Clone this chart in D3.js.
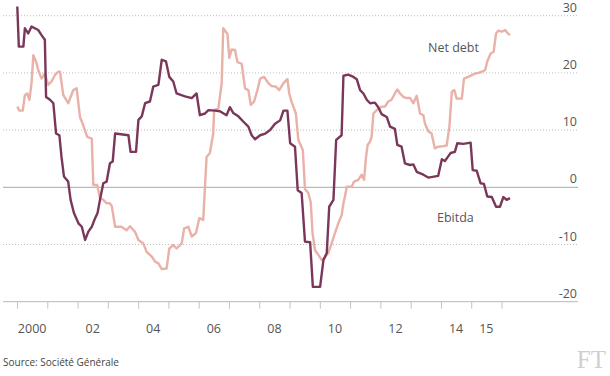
<!DOCTYPE html>
<html>
<head>
<meta charset="utf-8">
<script src="https://cdn.jsdelivr.net/npm/d3@7"></script>
<style>
  body { margin: 0; background: #fff; }
  svg { display: block; }
  text { font-family: "Open Sans", sans-serif; fill: #555; }
</style>
</head>
<body>
<div id="chart-area"></div>
<script>
// values (% change, year as decimal)
var ebitdaDates = [2000.01,2000.06,2000.21,2000.26,2000.37,2000.48,2000.59,2000.70,2000.81,2000.92,2000.96,
  2001.09,2001.20,2001.29,2001.40,2001.47,2001.55,2001.69,2001.77,2001.88,2002.03,2002.14,2002.25,2002.36,
  2002.47,2002.58,2002.66,2002.74,2002.85,2002.96,2003.07,2003.16,2003.24,2003.68,2003.75,2003.93,2004.01,
  2004.12,2004.23,2004.39,2004.50,2004.67,2004.78,2004.92,2005.03,2005.16,2005.27,2005.43,2005.55,2005.77,
  2005.93,2006.04,2006.21,2006.32,2006.54,2006.70,2006.92,2007.03,2007.14,2007.31,2007.47,2007.64,2007.75,
  2007.86,2008.03,2008.20,2008.36,2008.52,2008.69,2008.80,2008.93,2009.02,2009.18,2009.27,2009.40,2009.51,
  2009.68,2009.77,2010.01,2010.12,2010.23,2010.31,2010.45,2010.54,2010.72,2010.78,2010.94,2011.11,2011.22,
  2011.33,2011.44,2011.55,2011.66,2011.82,2011.93,2012.04,2012.21,2012.32,2012.48,2012.56,2012.70,2012.81,
  2012.98,2013.09,2013.20,2013.42,2013.58,2013.91,2014.03,2014.13,2014.24,2014.32,2014.46,2014.54,2014.74,
  2014.98,2015.05,2015.18,2015.31,2015.42,2015.53,2015.68,2015.82,2015.95,2016.06,2016.17,2016.28];
var ebitdaValues = [31.6,24.6,24.6,27.8,26.9,28.1,27.8,27.5,26.6,25.8,15.8,
  15.3,14.7,9.4,9.1,5.3,1.9,1.0,-2.2,-4.5,-6.3,-6.9,-9.2,-7.7,
  -6.9,-5.4,-4.5,-2.2,0.7,1.0,4.2,4.5,9.4,9.1,6.2,6.2,11.8,
  12.4,14.7,15.0,17.6,17.9,22.3,22.0,19.3,18.5,16.4,16.1,15.9,15.6,
  16.4,12.6,12.9,13.5,13.4,13.3,12.6,14.0,13.0,12.4,11.5,10.6,9.1,
  8.4,9.1,9.4,10.0,11.1,11.7,13.4,13.4,7.7,7.1,-0.5,-1.0,-9.5,
  -9.6,-17.4,-17.4,-12.7,-11.5,-3.4,-2.2,8.3,9.1,19.5,19.7,19.3,18.9,
  17.0,16.4,15.3,14.7,14.8,14.0,12.8,12.3,10.6,10.2,7.4,7.1,4.2,
  3.9,4.0,2.7,2.2,1.7,2.0,4.9,4.6,5.4,6.0,6.2,7.7,7.6,
  7.8,3.0,2.9,0.7,0.6,-1.6,-1.7,-3.4,-3.4,-1.7,-2.2,-1.9];

var debtDates = [2000.01,2000.08,2000.19,2000.26,2000.34,2000.41,2000.48,2000.54,2000.63,2000.70,2000.81,2000.92,
  2001.03,2001.14,2001.25,2001.36,2001.42,2001.53,2001.69,2001.86,2001.97,2002.08,2002.19,2002.32,2002.47,
  2002.52,2002.65,2002.74,2002.85,2002.96,2003.07,2003.13,2003.24,2003.45,2003.62,2003.73,2003.90,2004.01,
  2004.17,2004.28,2004.45,2004.56,2004.67,2004.78,2004.94,2005.03,2005.16,2005.27,2005.44,2005.52,2005.66,
  2005.77,2005.91,2006.02,2006.15,2006.26,2006.37,2006.48,2006.51,2006.65,2006.76,2006.81,2006.95,2007.01,
  2007.09,2007.20,2007.28,2007.42,2007.53,2007.64,2007.72,2007.83,2007.94,2008.03,2008.16,2008.30,2008.41,
  2008.55,2008.66,2008.80,2008.93,2008.99,2009.07,2009.21,2009.29,2009.44,2009.51,2009.62,2009.70,2009.76,
  2009.84,2009.95,2010.06,2010.17,2010.28,2010.39,2010.50,2010.61,2010.72,2010.78,2010.83,2010.89,2011.05,
  2011.13,2011.27,2011.38,2011.46,2011.53,2011.58,2011.66,2011.71,2011.77,2011.88,2011.93,2012.04,2012.15,
  2012.26,2012.37,2012.48,2012.56,2012.65,2012.76,2012.87,2012.98,2013.09,2013.20,2013.31,2013.42,2013.47,
  2013.58,2013.69,2013.80,2013.91,2014.08,2014.19,2014.28,2014.36,2014.44,2014.52,2014.69,2014.76,2014.90,
  2015.02,2015.13,2015.24,2015.35,2015.46,2015.53,2015.64,2015.74,2015.82,2015.90,2016.01,2016.12,2016.21,2016.28];
var debtValues = [14.1,13.4,13.4,16.1,16.4,15.3,18.2,23.1,22.0,20.5,19.0,19.9,
  17.9,18.5,19.6,20.2,20.2,16.1,14.7,17.0,17.3,12.3,10.8,8.8,8.5,
  0.4,0.4,-1.9,-2.2,-2.8,-2.8,-3.3,-6.9,-6.9,-7.5,-6.8,-7.8,-9.2,
  -9.8,-11.3,-12.1,-13.0,-13.3,-14.3,-14.2,-10.7,-10.1,-10.7,-9.8,-7.2,-6.9,
  -8.6,-8.0,-5.4,-5.7,5.3,6.0,9.4,13.5,13.8,18.2,27.8,26.8,22.6,
  24.1,24.0,21.9,21.6,17.3,17.0,14.4,15.0,17.0,19.0,19.3,18.2,17.7,
  17.6,17.0,18.2,18.9,16.4,14.9,12.9,8.3,6.5,-0.3,-1.0,-2.6,-8.0,
  -11.0,-11.8,-12.7,-12.2,-11.5,-9.8,-8.0,-6.3,-4.9,-2.8,-1.6,0.1,0.1,
  1.0,1.3,2.2,1.3,5.5,7.4,8.0,8.8,12.9,13.5,13.7,14.1,14.1,
  15.0,15.3,16.4,17.1,16.4,15.8,15.6,15.6,14.7,16.0,12.9,12.6,11.2,
  9.8,9.4,6.8,7.1,7.2,7.3,10.6,16.7,17.0,15.5,15.5,19.0,19.3,
  19.6,19.9,20.0,20.2,20.5,22.0,23.4,23.7,26.9,27.4,27.2,27.5,26.9,26.6];

var yTicks = [-20, -10, 0, 10, 20, 30];
var yearTicks = d3.range(2000, 2017);
var yearLabels = [2000, 2002, 2004, 2006, 2008, 2010, 2012, 2014, 2015];
var yearText = ["2000", "02", "04", "06", "08", "10", "12", "14", "15"];

var width = 610, height = 376;

var svg = d3.select("#chart-area").append("svg")
  .attr("width", width)
  .attr("height", height);

var x = d3.scaleLinear().domain([2000, 2016]).range([17, 501.5]);
var y = d3.scaleLinear().domain([-20, 30]).range([301.7, 15.7]);

// dotted gridlines
svg.append("g").selectAll("line")
  .data(yTicks.filter(d => d !== 0 && d !== -20))
  .enter().append("line")
  .attr("x1", 3).attr("x2", 578)
  .attr("y1", d => y(d)).attr("y2", d => y(d))
  .attr("stroke", "#bdbdbd")
  .attr("stroke-width", 1)
  .attr("stroke-dasharray", "1,2");

// zero line
svg.append("line")
  .attr("x1", 3).attr("x2", 578)
  .attr("y1", y(0)).attr("y2", y(0))
  .attr("stroke", "#a8a8a8");

// y labels on the right, above the lines
svg.append("g").selectAll("text")
  .data(yTicks)
  .enter().append("text")
  .attr("x", 577)
  .attr("y", d => y(d) - 4)
  .attr("text-anchor", "end")
  .style("font-size", "12.5px")
  .text(d => d);

// bottom axis with year ticks
var xAxis = d3.axisBottom(x)
  .tickValues(yearTicks)
  .tickSize(7)
  .tickFormat("");
var gx = svg.append("g")
  .attr("transform", "translate(0," + y(-20) + ")")
  .call(xAxis);
gx.select(".domain").remove();
gx.selectAll(".tick line").attr("stroke", "#c4c4c4");
gx.append("line")
  .attr("x1", 3).attr("x2", 578)
  .attr("stroke", "#b8b8b8");

svg.append("g").selectAll("text")
  .data(yearLabels)
  .enter().append("text")
  .attr("x", d => x(d + 0.5))
  .attr("y", 333)
  .attr("text-anchor", "middle")
  .style("font-size", "12.5px")
  .text((d, i) => yearText[i]);

var line = d3.line()
  .x(d => x(d[0]))
  .y(d => y(d[1]));

var debt = debtDates.map((d, i) => [d, debtValues[i]]);
var ebitda = ebitdaDates.map((d, i) => [d, ebitdaValues[i]]);

svg.append("path")
  .datum(debt)
  .attr("fill", "none")
  .attr("stroke", "#e9b1a7")
  .attr("stroke-width", 2.4)
  .attr("stroke-linejoin", "round")
  .attr("d", line);

svg.append("path")
  .datum(ebitda)
  .attr("fill", "none")
  .attr("stroke", "#7a3759")
  .attr("stroke-width", 2.4)
  .attr("stroke-linejoin", "round")
  .attr("d", line);

// series labels
svg.append("text")
  .attr("x", 428).attr("y", 51.5)
  .style("font-size", "12.5px")
  .text("Net debt");
svg.append("text")
  .attr("x", 437).attr("y", 221.5)
  .style("font-size", "12.5px")
  .text("Ebitda");

// source and logo
svg.append("text")
  .attr("x", 3).attr("y", 366)
  .style("font-size", "10px")
  .style("fill", "#444")
  .text("Source: Société Générale");
svg.append("text")
  .attr("x", 606).attr("y", 368)
  .attr("text-anchor", "end")
  .style("font-family", "'Liberation Serif', serif")
  .style("font-size", "25px")
  .style("fill", "#cfcfcf")
  .text("FT");
</script>
</body>
</html>
